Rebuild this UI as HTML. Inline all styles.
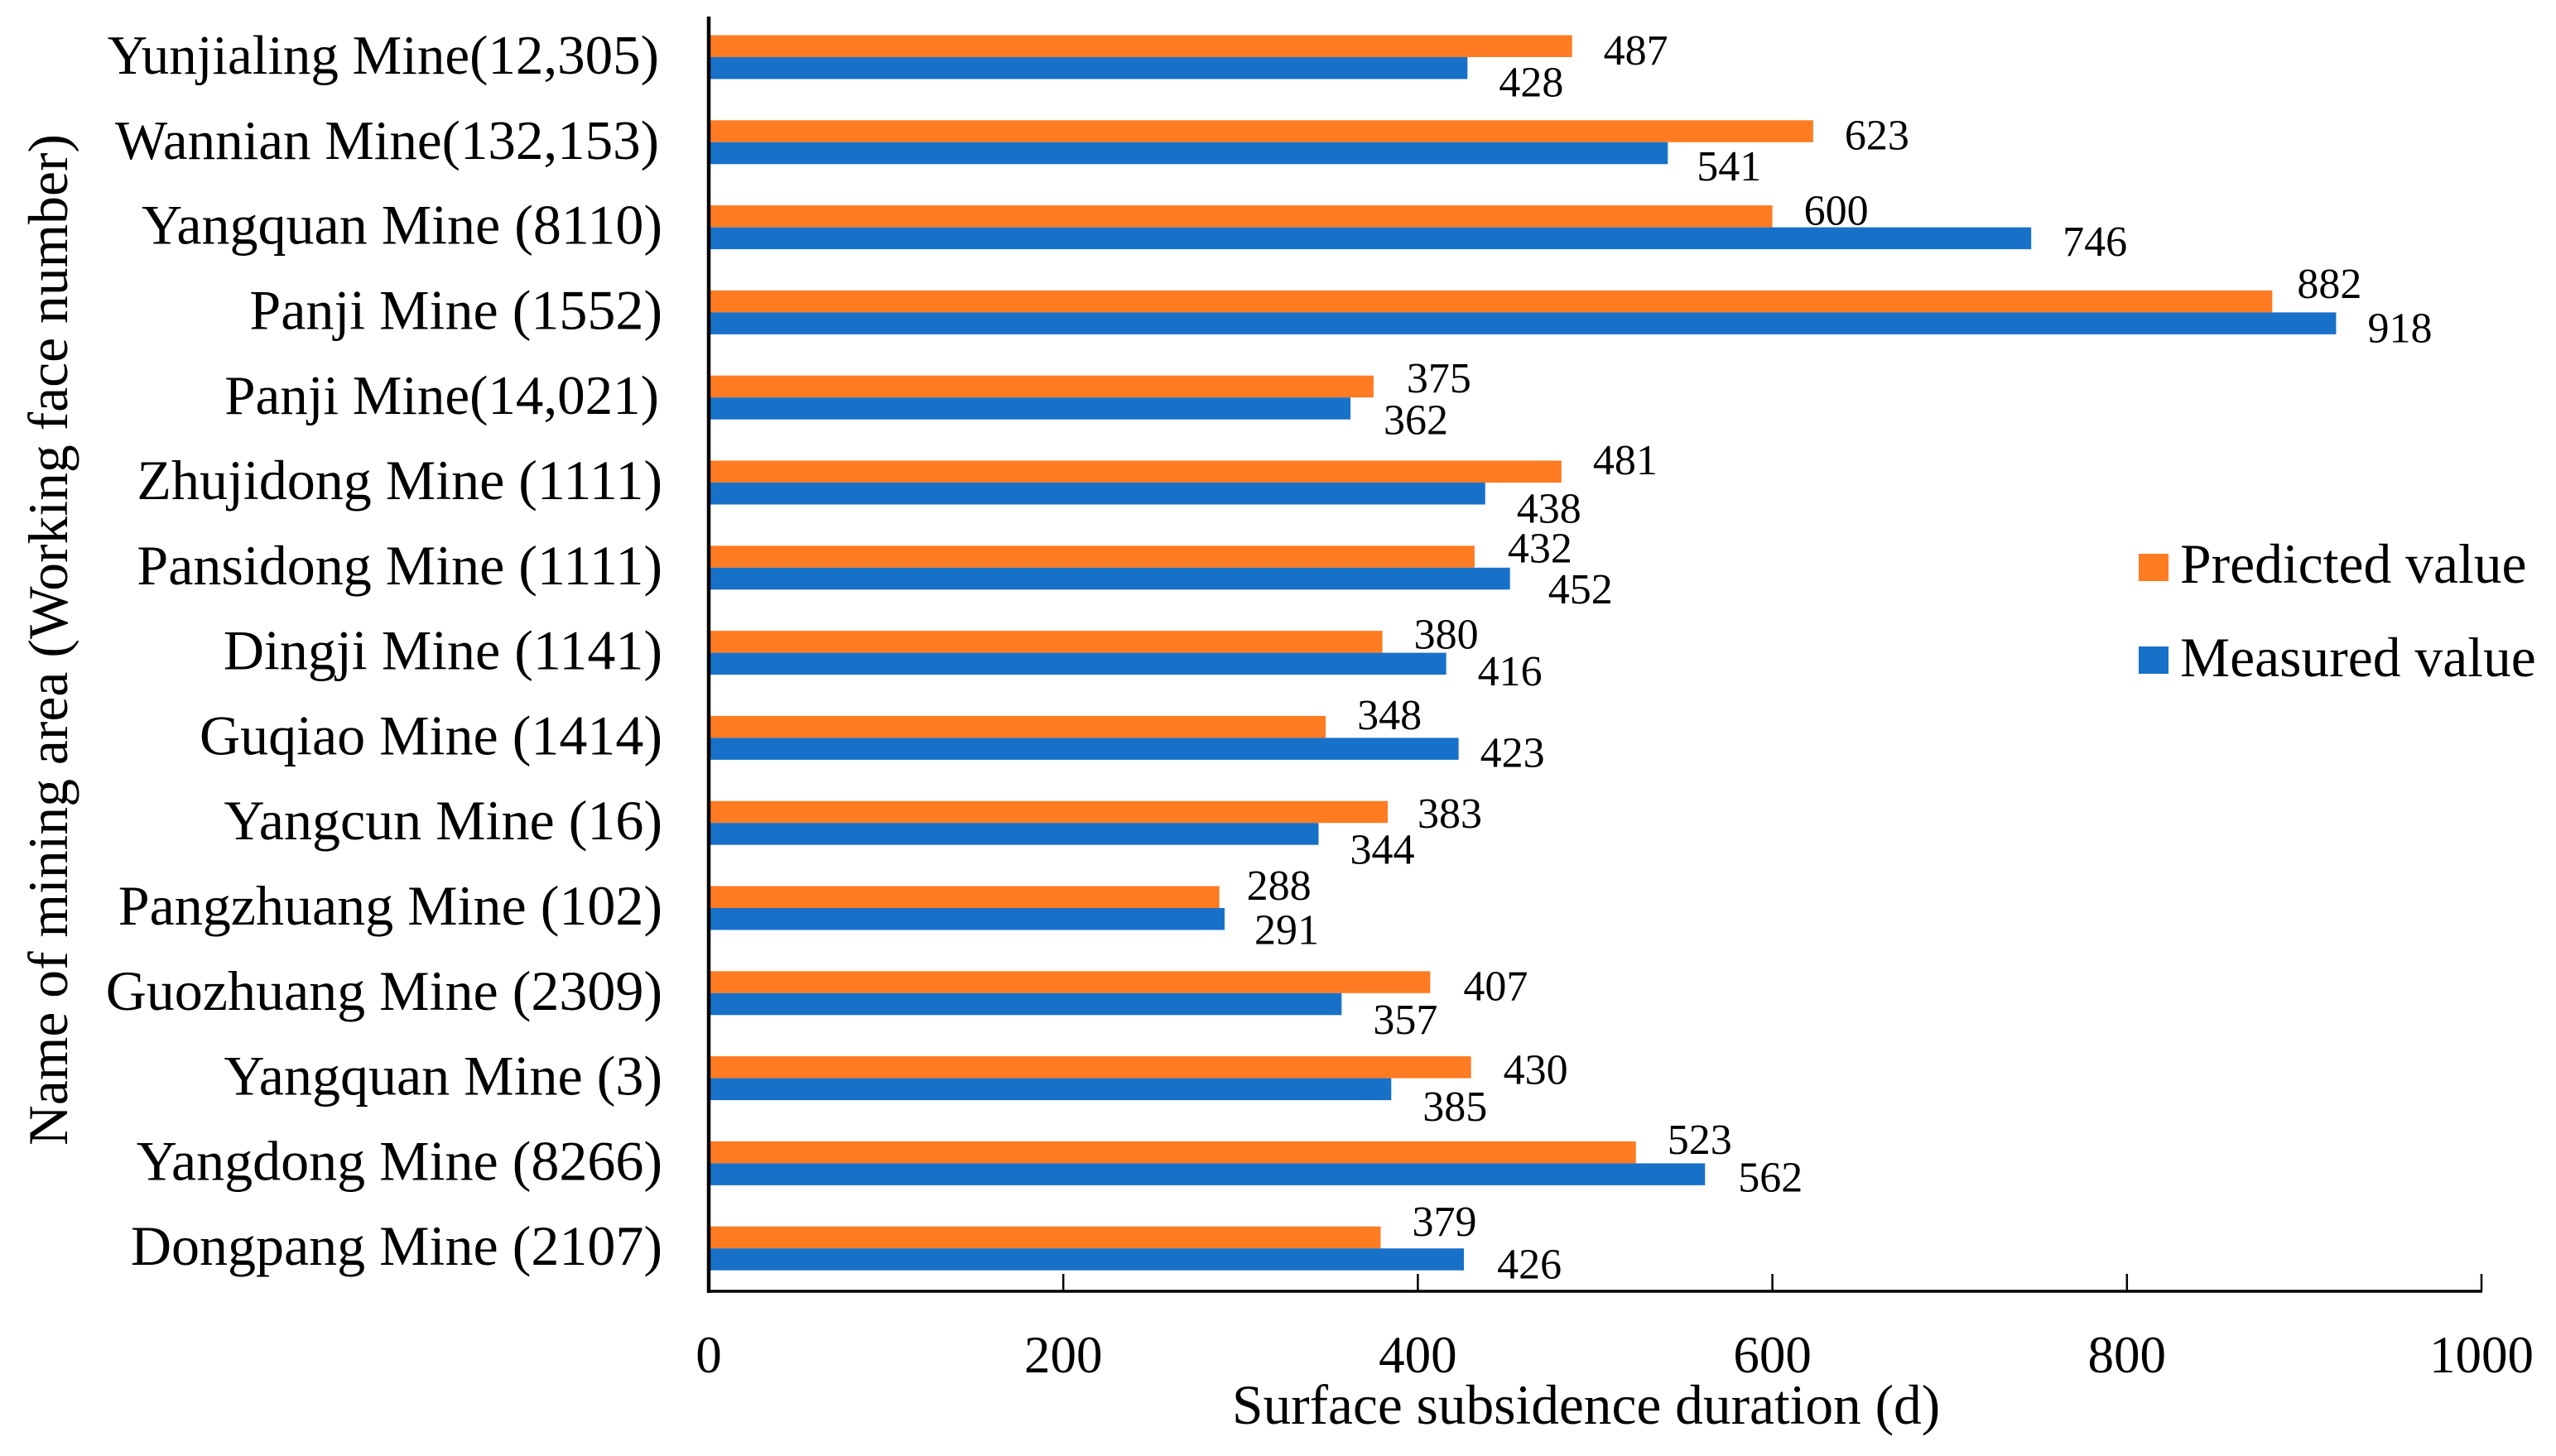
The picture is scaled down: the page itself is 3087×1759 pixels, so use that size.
<!DOCTYPE html>
<html lang="en">
<head>
<meta charset="utf-8">
<title>Surface subsidence duration by mining area</title>
<style>
html,body{margin:0;padding:0;background:#fff;}
svg{display:block;}
text{font-family:"Liberation Serif","Times New Roman",serif;fill:#000;}
</style>
</head>
<body>
<svg id="chart" xmlns="http://www.w3.org/2000/svg" width="3087" height="1759" viewBox="0 0 3087 1759"></svg>
<script>
const categories = ["Yunjialing Mine(12,305)","Wannian Mine(132,153)","Yangquan Mine (8110)","Panji Mine (1552)","Panji Mine(14,021)","Zhujidong Mine (1111)","Pansidong Mine (1111)","Dingji Mine (1141)","Guqiao Mine (1414)","Yangcun Mine (16)","Pangzhuang Mine (102)","Guozhuang Mine (2309)","Yangquan Mine (3)","Yangdong Mine (8266)","Dongpang Mine (2107)"];
const predictedValues = [487,623,600,882,375,481,432,380,348,383,288,407,430,523,379];
const measuredValues = [428,541,746,918,362,438,452,416,423,344,291,357,385,562,426];
const xTickLabels = [0,200,400,600,800,1000];
const seriesNames = ["Predicted value","Measured value"];

/* Hand-placed label offsets from the source chart (layout only, not data) */
const predictedLabelNudgeY = [5,5,-7,-21,-10,-14,-10,-9,-14,2,-14,5,3,-15,-19];
const measuredLabelNudgeY = [17,16,4,6,14,18,13,9,5,19,13,19,21,4,6];
const predictedLabelNudgeX = [0,0,0,-8,2,0,2,0,0,-2,-5,2,1,0,0];
const measuredLabelNudgeX = [0,-3,0,0,2,0,8,0,-12,0,-2,0,0,2,2];

const NS = "http://www.w3.org/2000/svg";
const svg = document.getElementById("chart");
const X0 = 856, X1 = 2997, AXIS_MAX = 1000, Y_TOP = 20, Y_BOTTOM = 1560;
const BAR_H = 26.5;
const ORANGE = "#fe7b22", BLUE = "#1871c9";

function xScale(v){ return X0 + (v / AXIS_MAX) * (X1 - X0); }
function bandCenter(i){ return 69 + 102.8 * i; }

function mk(tag, attrs, text){
  const el = document.createElementNS(NS, tag);
  for (const k in attrs) el.setAttribute(k, attrs[k]);
  if (text !== undefined) el.textContent = text;
  svg.appendChild(el);
  return el;
}

categories.forEach(function(name, i){
  const c = bandCenter(i);
  const tight = name.indexOf("Mine(") !== -1;
  const label = mk("text", {x: tight ? 796 : 800, y: c + 20, "text-anchor": "end", "font-size": tight ? 67 : 68}, name);
  
  

  const pBar = mk("rect", {x: X0, y: c - BAR_H, width: xScale(predictedValues[i]) - X0, height: BAR_H, fill: ORANGE});
  
  

  const mBar = mk("rect", {x: X0, y: c, width: xScale(measuredValues[i]) - X0, height: BAR_H, fill: BLUE});
  
  

  const pText = mk("text", {x: xScale(predictedValues[i]) + 77 + predictedLabelNudgeX[i], y: c - BAR_H / 2 + 17 + predictedLabelNudgeY[i], "text-anchor": "middle", "font-size": 52}, predictedValues[i]);
  
  

  const mText = mk("text", {x: xScale(measuredValues[i]) + 77 + measuredLabelNudgeX[i], y: c + BAR_H / 2 + 17 + measuredLabelNudgeY[i], "text-anchor": "middle", "font-size": 52}, measuredValues[i]);
  
  
});

const yAxis = mk("line", {x1: X0, y1: Y_TOP, x2: X0, y2: Y_BOTTOM + 2, stroke: "#000", "stroke-width": 4.5});



const xAxis = mk("line", {x1: X0 - 2, y1: Y_BOTTOM, x2: X1 + 1, y2: Y_BOTTOM, stroke: "#000", "stroke-width": 3.5});



xTickLabels.forEach(function(t){
  const x = xScale(t);
  if (t !== 0) {
    const tick = mk("line", {x1: x, y1: Y_BOTTOM - 21, x2: x, y2: Y_BOTTOM, stroke: "#000", "stroke-width": 2.5});
    
    
  }
  const lab = mk("text", {x: x, y: 1658, "text-anchor": "middle", "font-size": 63}, t);
  
  
});

const xTitle = mk("text", {x: 1488, y: 1720, "font-size": 67.4}, "Surface subsidence duration (d)");



const yTitle = mk("text", {x: 0, y: 0, "font-size": 67.6, "text-anchor": "middle", transform: "translate(81 773) rotate(-90)"}, "Name of mining area (Working face number)");



const pSwatch = mk("rect", {x: 2583, y: 669, width: 36, height: 33, fill: ORANGE});



const pLegend = mk("text", {x: 2633, y: 704, "font-size": 67.6}, seriesNames[0]);



const mSwatch = mk("rect", {x: 2583, y: 781, width: 36, height: 33, fill: BLUE});



const mLegend = mk("text", {x: 2633, y: 817, "font-size": 67.6}, seriesNames[1]);


</script>
</body>
</html>
